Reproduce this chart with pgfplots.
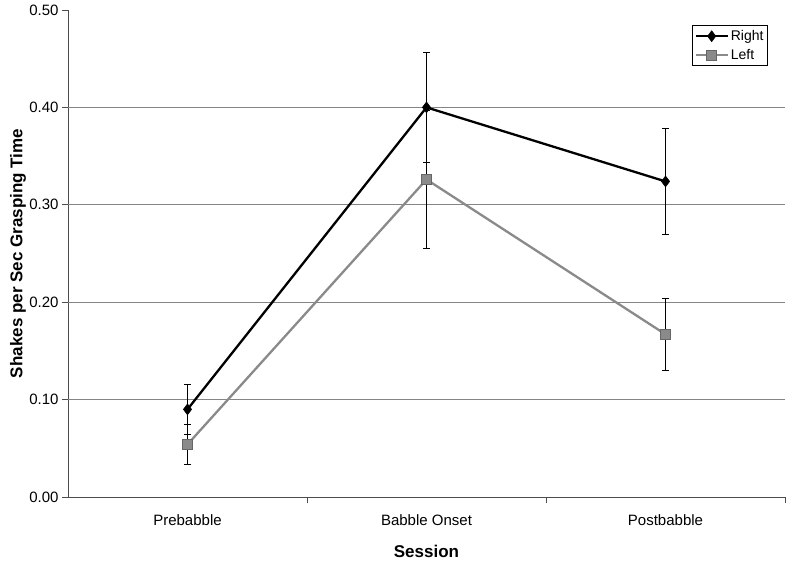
\documentclass[border=0pt]{standalone}
\usepackage{pgfplots}
\pgfplotsset{compat=1.18}
\usepackage{fontspec}
\setmainfont{Liberation Sans}

\definecolor{leftgray}{HTML}{8A8A8A}
\definecolor{gridgray}{HTML}{858585}

\begin{document}
\begin{tikzpicture}
  \begin{axis}[
      scale only axis,
      width=717pt,
      height=487pt,
      xmin=-0.5, xmax=2.5,
      ymin=0, ymax=0.5,
      axis lines*=left,
      axis line style={draw=black!70, line width=0.8pt},
      tick align=outside,
      xtick={0,1,2},
      xticklabels={Prebabble, Babble Onset, Postbabble},
      major x tick style={draw=none},
      minor xtick={0.5,1.5,2.5},
      minor x tick style={draw=black!70, line width=0.8pt},
      minor tick length=6pt,
      ytick={0,0.1,0.2,0.3,0.4,0.5},
      major y tick style={draw=black!70, line width=0.8pt},
      major tick length=6pt,
      extra y ticks={0.1,0.2,0.3,0.4},
      extra y tick labels={},
      extra y tick style={grid=major, major tick length=0pt},
      grid style={draw=gridgray, line width=0.9pt},
      yticklabel style={
        /pgf/number format/fixed,
        /pgf/number format/fixed zerofill,
        /pgf/number format/precision=2,
        /pgf/number format/assume math mode=true,
        font=\fontsize{15}{18}\selectfont},
      xticklabel style={font=\fontsize{15}{18}\selectfont, yshift=-8pt},
      xlabel={Session},
      ylabel={Shakes per Sec Grasping Time},
      xlabel style={font=\fontsize{17}{20}\selectfont\bfseries, yshift=-13pt},
      ylabel style={font=\fontsize{17}{20}\selectfont\bfseries,
        at={(axis description cs:-0.0697,0.5)}, anchor=center},
      legend style={at={(0.976,0.969)}, anchor=north east,
        draw=black, line width=0.6pt, font=\fontsize{14}{17}\selectfont,
        inner xsep=2pt, inner ysep=3pt, row sep=3pt, cells={anchor=west}},
      legend image code/.code={
        \draw[mark repeat=2, mark phase=2]
          plot coordinates {(0pt,0pt) (16pt,0pt) (32pt,0pt)};},
      error bars/error bar style={draw=black, line width=0.8pt},
      error bars/error mark options={rotate=90, mark size=3.5pt, draw=black, line width=0.8pt},
    ]
    \addplot[black, line width=2.3pt, mark=diamond*, mark size=5.5pt,
      mark options={fill=black, draw=black, line width=0.5pt},
      error bars/.cd, y dir=both, y explicit]
      coordinates {
        (0, 0.090) +- (0, 0.0257)
        (1, 0.400) +- (0, 0.056)
        (2, 0.324) +- (0, 0.0547)
      };
    \addplot[leftgray, line width=2.3pt, mark=square*, mark size=5pt,
      mark options={fill=leftgray, draw=black!60, line width=0.5pt},
      error bars/.cd, y dir=both, y explicit]
      coordinates {
        (0, 0.054) +- (0, 0.0205)
        (1, 0.326) +- (0, 0.071)
        (2, 0.167) +- (0, 0.037)
      };
    \legend{Right, Left}
  \end{axis}
  \pgfresetboundingbox
  \useasboundingbox ([shift={(-68pt,-65pt)}]current axis.south west)
    rectangle ([shift={(1pt,10pt)}]current axis.north east);
\end{tikzpicture}
\end{document}
